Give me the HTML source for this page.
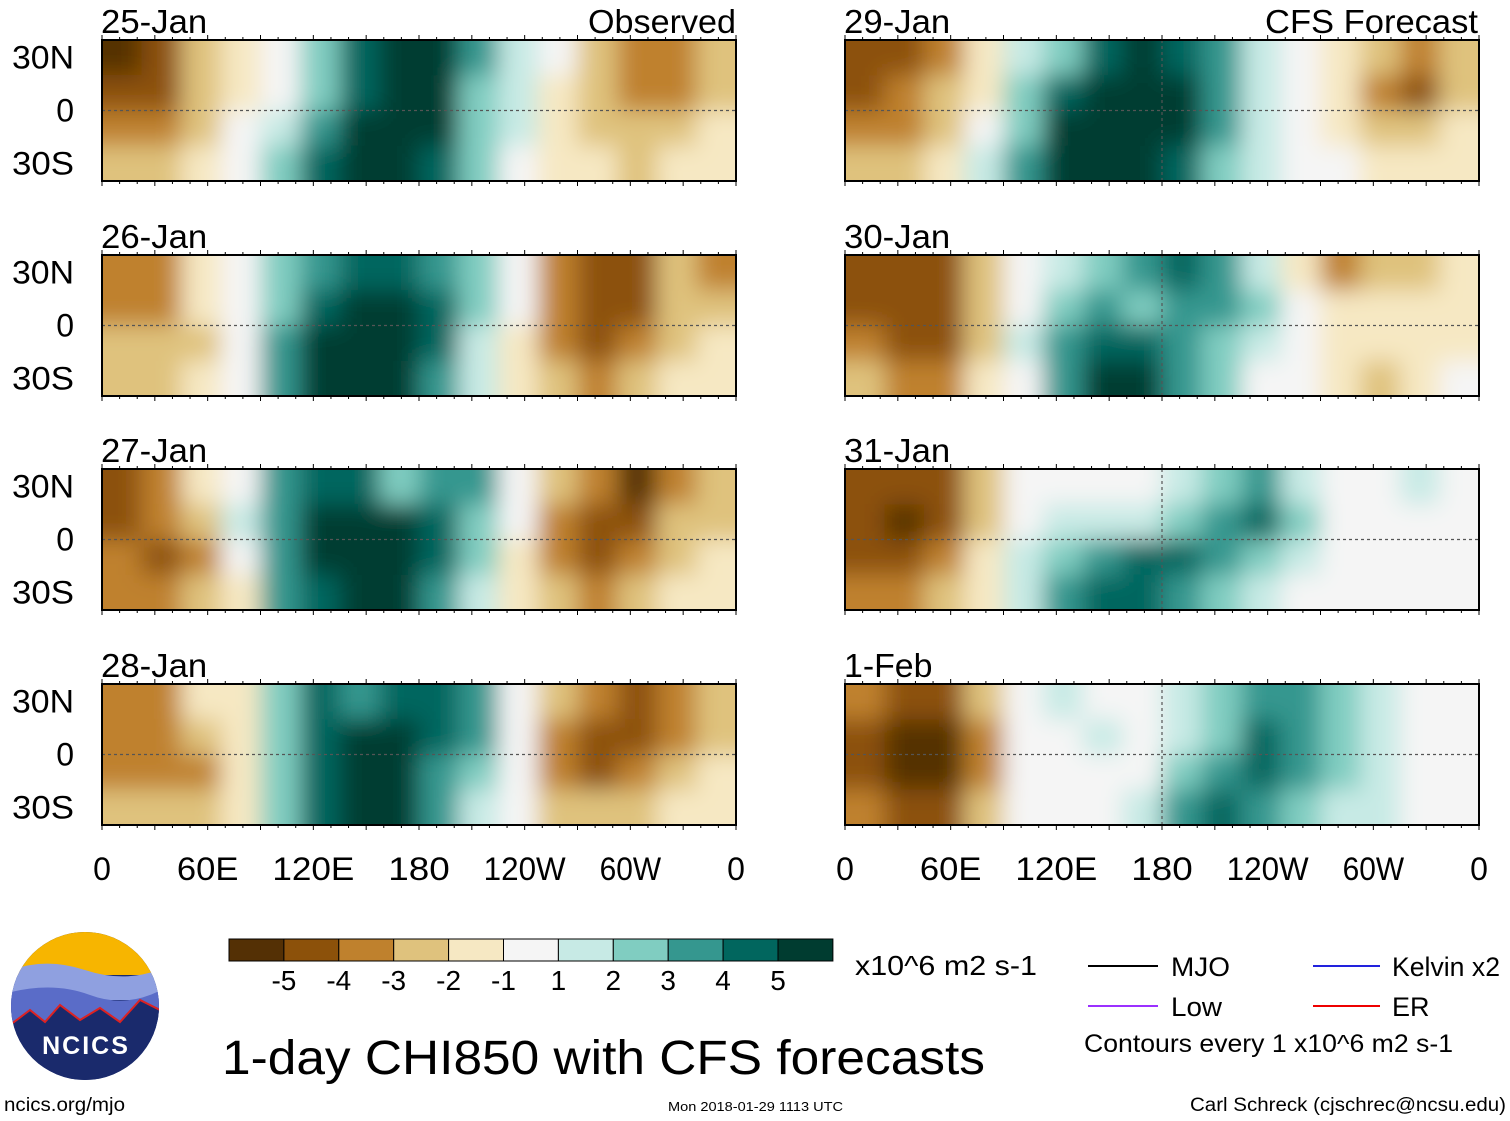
<!DOCTYPE html>
<html><head><meta charset="utf-8"><style>
body{margin:0;background:#fff;width:1510px;height:1121px;overflow:hidden;font-family:"Liberation Sans",sans-serif}
svg{position:absolute;left:0;top:0}
</style></head><body>
<svg id="fig" width="1510" height="1121" viewBox="0 0 1510 1121">
<defs><filter id="bl" x="-5%" y="-30%" width="110%" height="160%"><feGaussianBlur stdDeviation="12"/></filter></defs>
<g id="panels"></g>
<g font-size="32" fill="#000" text-anchor="middle" id="lonl"></g>
<g id="cbar"></g>
<text x="855" y="975" font-size="28" textLength="182" lengthAdjust="spacingAndGlyphs">x10^6 m2 s-1</text>
<g font-size="27">
<line x1="1088" y1="966" x2="1158" y2="966" stroke="#000" stroke-width="2"/><text x="1171" y="976" textLength="59" lengthAdjust="spacingAndGlyphs">MJO</text>
<line x1="1088" y1="1006" x2="1158" y2="1006" stroke="#9b30ff" stroke-width="2"/><text x="1171" y="1016" textLength="51" lengthAdjust="spacingAndGlyphs">Low</text>
<line x1="1313" y1="966" x2="1380" y2="966" stroke="#2222dd" stroke-width="2"/><text x="1392" y="976" textLength="108" lengthAdjust="spacingAndGlyphs">Kelvin x2</text>
<line x1="1313" y1="1006" x2="1380" y2="1006" stroke="#e00" stroke-width="2"/><text x="1392" y="1016">ER</text>
<text x="1084" y="1052" font-size="25" textLength="369" lengthAdjust="spacingAndGlyphs">Contours every 1 x10^6 m2 s-1</text>
</g>
<text x="222" y="1074" font-size="48" textLength="763" lengthAdjust="spacingAndGlyphs">1-day CHI850 with CFS forecasts</text>
<g>
<clipPath id="lc"><circle cx="85" cy="1006" r="74"/></clipPath>
<g clip-path="url(#lc)">
<rect x="0" y="930" width="170" height="160" fill="#1a2a6c"/>
<rect x="0" y="930" width="170" height="45" fill="#f7b500"/>
<path d="M0 975 Q40 955 85 970 T170 965 V1000 H0Z" fill="#8fa0e0"/>
<path d="M0 995 Q50 980 90 995 T170 985 V1030 H0Z" fill="#5a6cc8"/>
<path d="M10 1025 L30 1010 45 1022 60 1005 80 1020 100 1008 120 1022 140 1000 160 1010 V1090 H10Z" fill="#1a2a6c" stroke="#d22" stroke-width="2"/>
</g>
<text x="86" y="1054" font-size="25" font-weight="bold" fill="#fff" text-anchor="middle" letter-spacing="2">NCICS</text>
</g>
<text x="4" y="1111" font-size="19" textLength="121" lengthAdjust="spacingAndGlyphs">ncics.org/mjo</text>
<text x="668" y="1111" font-size="13" textLength="175" lengthAdjust="spacingAndGlyphs">Mon 2018-01-29 1113 UTC</text>
<text x="1190" y="1111" font-size="19" textLength="316" lengthAdjust="spacingAndGlyphs">Carl Schreck (cjschrec@ncsu.edu)</text>
</svg>
<script>
const colors=["#543005","#8c510a","#bf812d","#dfc27d","#f6e8c3","#f5f5f5","#c7eae5","#80cdc1","#35978f","#01665e","#003c30"];
const cbLabels=["-5","-4","-3","-2","-1","1","2","3","4","5"];
const lonLabels=["0","60E","120E","180","120W","60W","0"];
const latLabels=["30N","0","30S"];
const titles=["25-Jan","26-Jan","27-Jan","28-Jan","29-Jan","30-Jan","31-Jan","1-Feb"];
const p1=[[-5,-4,-2,-1,0,2,4,5,5,3,1,0,-2,-3,-3,-2],[-4,-4,-2,-1,0,2,4,5,5,2,1,-1,-2,-3,-3,-2],[-3,-3,-2,0,1,3,5,5,5,2,1,-1,-2,-2,-2,-1],[-2,-2,-1,0,2,4,5,5,4,2,0,-1,-1,-2,-1,-1]];
const p2=[[-3,-3,-1,0,2,3,4,4,3,2,0,-3,-4,-4,-2,-3],[-3,-3,-1,0,2,4,5,5,4,2,0,-3,-4,-4,-2,-2],[-2,-2,-2,0,3,5,5,5,4,1,-1,-3,-4,-3,-2,-1],[-2,-2,-1,0,3,5,5,5,3,1,-1,-2,-3,-2,-1,-1]];
const p3=[[-4,-3,-1,0,3,4,4,2,3,3,0,-2,-3,-5,-3,-2],[-4,-3,-2,1,3,5,5,5,4,2,0,-3,-4,-4,-2,-2],[-3,-4,-3,0,3,5,5,5,4,2,-1,-3,-4,-3,-2,-1],[-3,-3,-2,-1,3,4,5,5,3,1,-1,-2,-3,-2,-1,-1]];
const p4=[[-3,-3,-1,-1,2,4,3,4,4,3,0,-2,-3,-4,-3,-2],[-3,-3,-2,-1,2,4,5,5,4,3,0,-3,-4,-4,-3,-2],[-3,-3,-3,-1,2,4,5,5,3,2,0,-3,-4,-3,-2,-1],[-2,-2,-2,-1,2,4,5,5,3,1,0,-2,-2,-2,-1,-1]];
const p5=[[-4,-4,-3,-1,1,2,4,5,4,3,1,0,-1,-2,-3,-2],[-4,-3,-2,-1,2,4,5,5,5,3,1,0,-1,-3,-4,-2],[-3,-3,-2,0,2,5,5,5,5,3,1,0,-1,-2,-2,-1],[-2,-2,-1,1,3,5,5,5,4,2,1,0,0,-1,-1,-1]];
const p6=[[-4,-4,-4,-2,0,1,2,3,4,3,1,-1,-3,-2,-2,-1],[-4,-4,-4,-2,0,2,3,2,3,3,2,0,-1,-1,-1,-1],[-3,-4,-4,-2,1,3,4,4,3,2,1,0,-1,-1,-1,-1],[-2,-3,-3,-1,0,3,5,5,3,2,0,0,-1,-2,-1,0]];
const p7=[[-4,-4,-4,-2,0,0,0,0,1,2,3,1,0,0,1,0],[-4,-5,-4,-2,0,1,1,1,2,3,4,2,0,0,0,0],[-4,-4,-3,-1,1,2,3,4,4,3,2,1,0,0,0,0],[-3,-3,-2,-1,1,3,4,4,3,2,1,0,0,0,0,0]];
const p8=[[-3,-4,-4,-2,0,1,0,0,1,2,3,3,2,1,0,0],[-4,-5,-5,-3,0,0,1,0,1,2,4,3,2,1,0,0],[-4,-5,-5,-3,0,0,0,0,2,3,4,3,2,1,0,0],[-3,-4,-4,-2,0,0,0,1,3,4,3,2,1,1,0,0]];
const fields=[p1,p2,p3,p4,p5,p6,p7,p8];
const NS="http://www.w3.org/2000/svg";
function mk(t,a,p){const e=document.createElementNS(NS,t);for(const k in a)e.setAttribute(k,a[k]);if(p)p.appendChild(e);return e;}
const W=634,H=141,X0=[102,845],Y0=[40,255,469,684];
function xs(col,lon){return X0[col]+lon/360*W;}
function ys(row,lat){return Y0[row]+(40-lat)/80*H;}
function cidx(v){return Math.max(0,Math.min(10,v+5));}
const G=document.getElementById('panels');
fields.forEach((f,i)=>{
 const col=i<4?0:1,row=i%4;
 const g=mk('g',{},G);
 
 
 const cp=mk('clipPath',{id:'cp'+i},g);mk('rect',{x:X0[col],y:Y0[row],width:W,height:H},cp);
 const inner=mk('g',{'clip-path':'url(#cp'+i+')'},g);
 mk('rect',{x:X0[col],y:Y0[row],width:W,height:H,fill:colors[5]},inner);
 const bg=mk('g',{filter:'url(#bl)'},inner);
 const nr=f.length,nc=f[0].length;
 f.forEach((r,ri)=>r.forEach((v,ci)=>{
  const lat0=40-ri*80/nr,lat1=40-(ri+1)*80/nr;
  let x=xs(col,ci*360/nc),x2=xs(col,(ci+1)*360/nc);
  let y=ys(row,lat0),y2=ys(row,lat1);
  if(ri==0)y-=30; if(ri==nr-1)y2+=30; if(ci==0)x-=30; if(ci==nc-1)x2+=30;
  const c=mk('rect',{x:x,y:y,width:x2-x+0.5,height:y2-y+0.5,fill:colors[cidx(v)]},bg);
  
  
 }));
 mk('line',{x1:X0[col],x2:X0[col]+W,y1:ys(row,0),y2:ys(row,0),stroke:'#555','stroke-dasharray':'3,3','stroke-width':1.2},g);
 if(col==1)mk('line',{x1:xs(1,180),x2:xs(1,180),y1:Y0[row],y2:Y0[row]+H,stroke:'#555','stroke-dasharray':'3,3','stroke-width':1.2},g);
 mk('rect',{x:X0[col],y:Y0[row],width:W,height:H,fill:'none',stroke:'#000','stroke-width':2},g);
 for(let l=0;l<=360;l+=10){const x=xs(col,l),len=l%30==0?5:3;
  mk('line',{x1:x,x2:x,y1:Y0[row]-len,y2:Y0[row],stroke:'#000','stroke-width':1},g);
  mk('line',{x1:x,x2:x,y1:Y0[row]+H,y2:Y0[row]+H+len,stroke:'#000','stroke-width':1},g);}
 const t=mk('text',{x:X0[col]-1,y:Y0[row]-7,'font-size':33,textLength:titles[i].length*17.7,lengthAdjust:'spacingAndGlyphs'},g);t.textContent=titles[i];
 
 if(row==0){const s=mk('text',{x:col?1265:588,y:Y0[row]-7,'font-size':33,textLength:col?213:148,lengthAdjust:'spacingAndGlyphs'},g);s.textContent=col?'CFS Forecast':'Observed';
  }
 if(col==0)[30,0,-30].forEach((lat,k)=>{const a={x:74,y:ys(row,lat)+11,'font-size':32,'text-anchor':'end'};
  if(k!=1){a.textLength=62;a.lengthAdjust='spacingAndGlyphs';}
  const lt=mk('text',a,G);lt.textContent=latLabels[k];
  });
});
const LL=document.getElementById('lonl');
[0,1].forEach(col=>lonLabels.forEach((s,k)=>{const a={x:xs(col,k*60),y:880};
 if(s.length>1){a.textLength=s.length*20.5;a.lengthAdjust='spacingAndGlyphs';}
 const t=mk('text',a,LL);t.textContent=s;
 }));
const CB=document.getElementById('cbar');
colors.forEach((c,k)=>{const r=mk('rect',{x:229+k*54.9,y:939,width:54.9,height:22,fill:c,stroke:'#000','stroke-width':1},CB);
 });
cbLabels.forEach((s,k)=>{const t=mk('text',{x:229+(k+1)*54.9,y:990,'font-size':28,'text-anchor':'middle'},CB);t.textContent=s;
 });
</script>
</body></html>
